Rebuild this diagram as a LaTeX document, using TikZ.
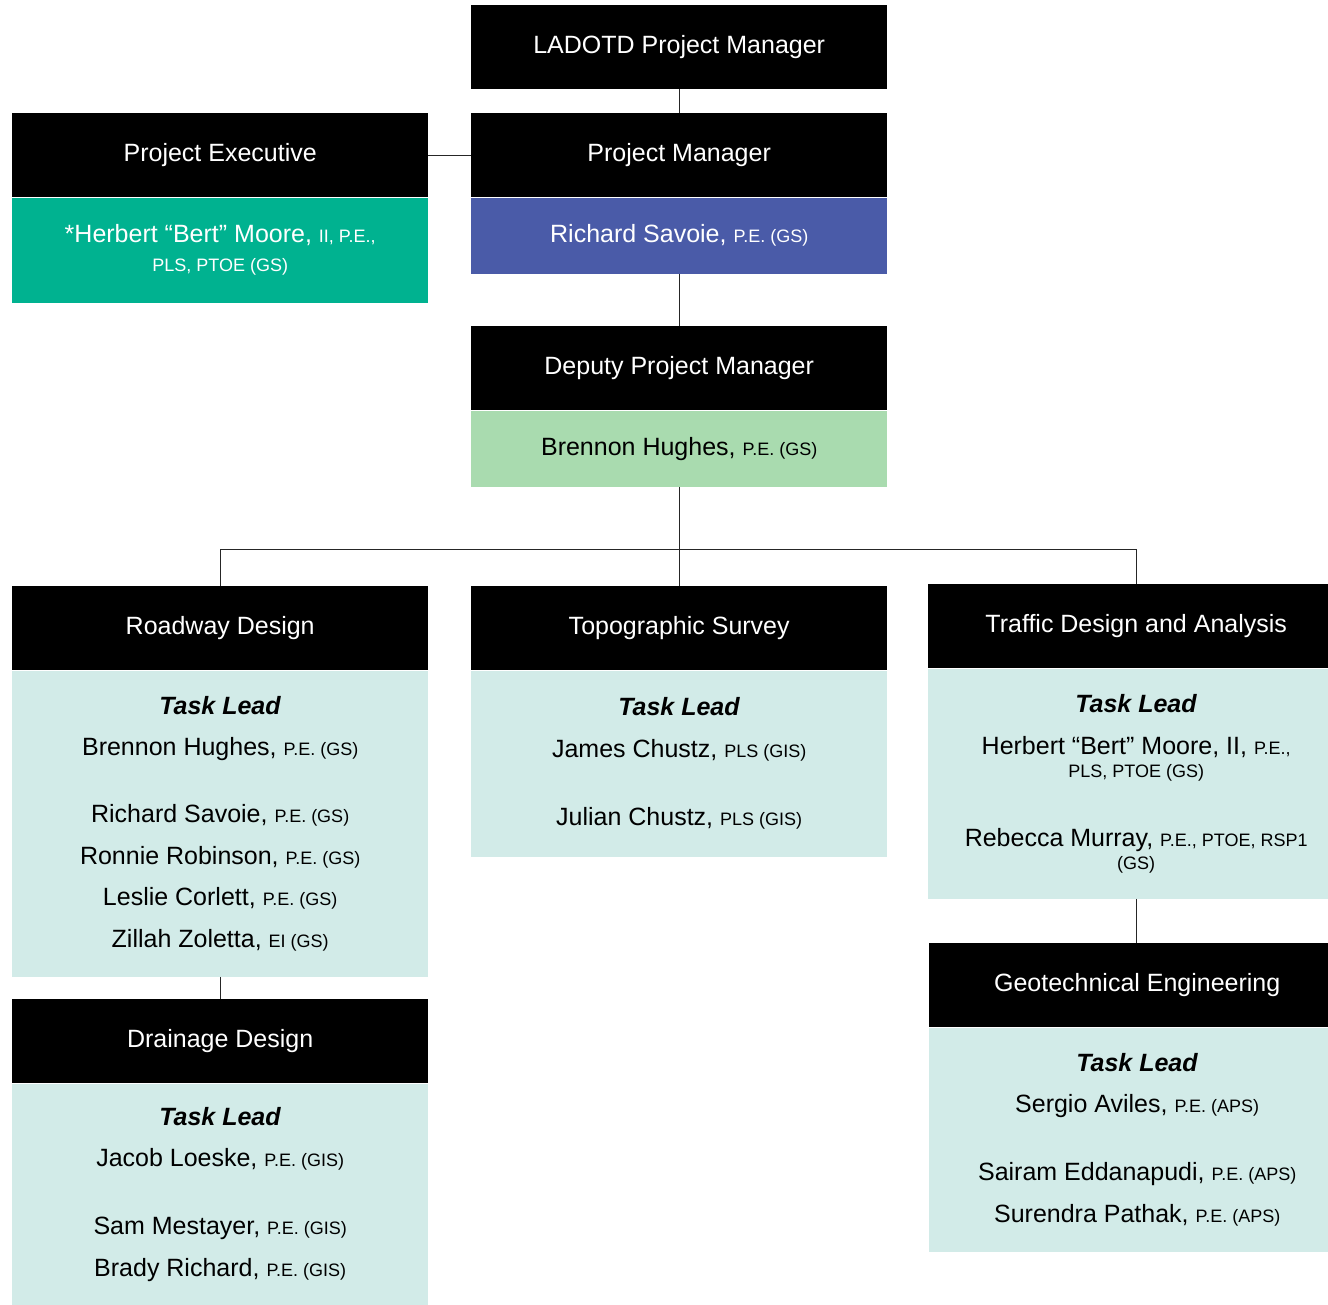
\documentclass[tikz,border=0pt]{standalone}
\usepackage{fontspec}
\setmainfont{Liberation Sans}
\usetikzlibrary{positioning}
\definecolor{execgreen}{HTML}{00B290}
\definecolor{pmblue}{HTML}{4A5BA8}
\definecolor{deputygreen}{HTML}{A9DBAF}
\definecolor{taskteal}{HTML}{D2EBE8}
\newcommand{\cred}[1]{{\fontsize{18}{22}\selectfont #1}}
\newcommand{\nm}[2]{#1 \cred{#2}}
\newcommand{\tasklead}{\textbf{\textit{Task Lead}}}
\tikzset{
  headbox/.style={fill=black,text=white,minimum width=416pt,minimum height=84pt,
    anchor=north west,inner sep=0pt,font=\fontsize{25}{30}\selectfont},
  bodybox/.style={fill=taskteal,minimum width=416pt,anchor=north,inner sep=0pt,
    align=center,font=\fontsize{25}{41.5}\selectfont},
  link/.style={draw=black!85,line width=0.9pt}
}
\begin{document}
\begin{tikzpicture}[x=1pt,y=-1pt]
  \useasboundingbox (0,0) rectangle (1328,1304);
  % management
  \node[headbox] (ladotd) at (471,5) {LADOTD Project Manager};
  \node[headbox] (pmhead) at (471,113) {Project Manager};
  \node[bodybox,fill=pmblue,text=white,minimum height=76pt] (pmbody) at (pmhead.south)
    {\nm{Richard Savoie,}{P.E. (GS)}};
  \node[headbox] (pehead) at (12,113) {Project Executive};
  \node[bodybox,fill=execgreen,text=white,minimum height=105pt,font=\fontsize{25}{29}\selectfont] (pebody) at (pehead.south)
    {*Herbert “Bert” Moore, \cred{II, P.E.,}\\ \cred{PLS, PTOE (GS)}};
  \node[headbox] (dphead) at (471,326) {Deputy Project Manager};
  \node[bodybox,fill=deputygreen,minimum height=76pt] (dpbody) at (dphead.south)
    {\nm{Brennon Hughes,}{P.E. (GS)}};
  % task groups
  \node[headbox] (rdhead) at (12,586) {Roadway Design};
  \node[bodybox,minimum height=306pt] (rdbody) at (rdhead.south)
    {\tasklead\\ \nm{Brennon Hughes,}{P.E. (GS)}\\[25.5pt]
     \nm{Richard Savoie,}{P.E. (GS)}\\ \nm{Ronnie Robinson,}{P.E. (GS)}\\
     \nm{Leslie Corlett,}{P.E. (GS)}\\ \nm{Zillah Zoletta,}{EI (GS)}};
  \node[headbox] (tphead) at (471,586) {Topographic Survey};
  \node[bodybox,minimum height=186pt] (tpbody) at (tphead.south)
    {\tasklead\\ \nm{James Chustz,}{PLS (GIS)}\\[27pt] \nm{Julian Chustz,}{PLS (GIS)}};
  \node[headbox] (tfhead) at (928,584) {Traffic Design and Analysis};
  \node[bodybox,minimum height=230pt] (tfbody) at (tfhead.south)
    {\tasklead\\ \nm{Herbert “Bert” Moore, II,}{P.E.,}\\[-18.5pt] \cred{PLS, PTOE (GS)}\\[27.5pt]
     \nm{Rebecca Murray,}{P.E., PTOE, RSP1}\\[-18.5pt] \cred{(GS)}};
  \node[headbox] (gehead) at (929,943) {Geotechnical Engineering};
  \node[bodybox,minimum height=224pt] (gebody) at (gehead.south)
    {\tasklead\\ \nm{Sergio Aviles,}{P.E. (APS)}\\[26.5pt]
     \nm{Sairam Eddanapudi,}{P.E. (APS)}\\ \nm{Surendra Pathak,}{P.E. (APS)}};
  \node[headbox] (ddhead) at (12,999) {Drainage Design};
  \node[bodybox,minimum height=221pt] (ddbody) at (ddhead.south)
    {\tasklead\\ \nm{Jacob Loeske,}{P.E. (GIS)}\\[26.5pt]
     \nm{Sam Mestayer,}{P.E. (GIS)}\\ \nm{Brady Richard,}{P.E. (GIS)}};
  % connectors
  \draw[link] (ladotd.south) -- (pmhead.north);
  \draw[link] (pehead.east) -- (pmhead.west);
  \draw[link] (pmbody.south) -- (dphead.north);
  \draw[link] (dpbody.south) -- (tphead.north);
  \draw[link] (rdhead.north) -- ++(0,-37) -| (tfhead.north);
  \draw[link] (tfbody.south) -- (tfbody.south |- gehead.north);
  \draw[link] (rdbody.south) -- (ddhead.north);
\end{tikzpicture}
\end{document}
